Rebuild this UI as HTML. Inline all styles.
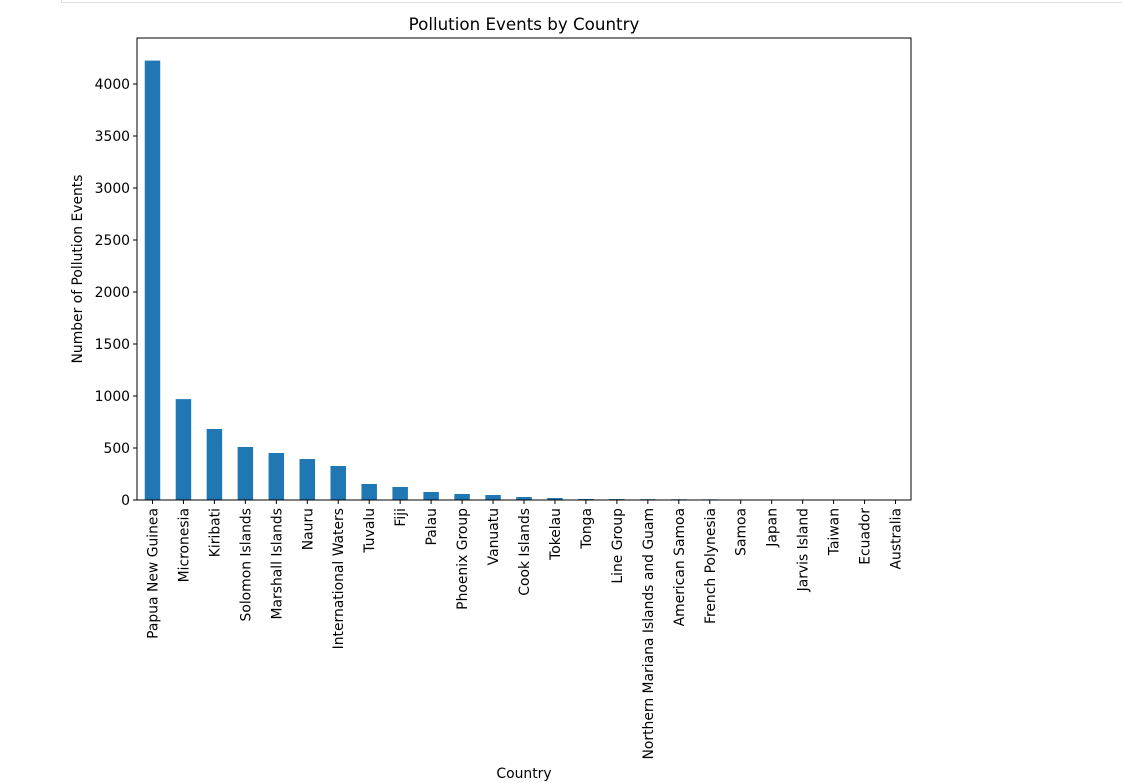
<!DOCTYPE html>
<html><head><meta charset="utf-8"><style>
body{margin:0;background:#fff;width:1122px;height:783px;overflow:hidden;font-family:"Liberation Sans","DejaVu Sans",sans-serif}
</style></head><body>
<div style="position:absolute;left:61px;top:0;width:1061px;height:2px;border-bottom:1px solid #ddd;border-left:1px solid #ddd"></div>
<svg id="chart" width="1122" height="783" style="position:absolute;left:0;top:0" font-family="DejaVu Sans, Liberation Sans, sans-serif"></svg>
<script>
const categories=["Papua New Guinea","Micronesia","Kiribati","Solomon Islands","Marshall Islands","Nauru","International Waters","Tuvalu","Fiji","Palau","Phoenix Group","Vanuatu","Cook Islands","Tokelau","Tonga","Line Group","Northern Mariana Islands and Guam","American Samoa","French Polynesia","Samoa","Japan","Jarvis Island","Taiwan","Ecuador","Australia"];
const values=[4225,970,683,510,452,394,327,154,125,77,58,48,29,19,10,9,8,7,6,2,1,1,1,1,1];
const yTicks=[0,500,1000,1500,2000,2500,3000,3500,4000];
const svg=document.getElementById('chart');const NS='http://www.w3.org/2000/svg';
const L=137,R=911,T=38,B=500;
const x=i=>L+(i+0.5)*(R-L)/categories.length;
const y=v=>B-v*0.104;
function el(t,a,p){const e=document.createElementNS(NS,t);for(const k in a)e.setAttribute(k,a[k]);(p||svg).appendChild(e);return e;}
const bw=(R-L)/categories.length*0.5;
values.forEach((v,i)=>{const r=el('rect',{x:x(i)-bw/2,y:y(v),width:bw,height:B-y(v),fill:'#1f77b4'});

});
yTicks.forEach(t=>{el('line',{x1:L-4,x2:L,y1:y(t),y2:y(t),stroke:'#000'});
const tx=el('text',{x:L-7,y:y(t)+5,'text-anchor':'end','font-size':13.9});tx.textContent=t;

});
categories.forEach((c,i)=>{el('line',{x1:x(i),x2:x(i),y1:B,y2:B+4,stroke:'#000'});
const tx=el('text',{x:0,y:0,'text-anchor':'end','font-size':13.9,transform:`translate(${x(i)+5},${B+8}) rotate(-90)`});tx.textContent=c;

});
const fr=el('rect',{x:L,y:T,width:R-L,height:B-T,fill:'none',stroke:'#000','stroke-width':1});


const ti=el('text',{x:(L+R)/2,y:30,'text-anchor':'middle','font-size':16.7});ti.textContent='Pollution Events by Country';


const xl=el('text',{x:(L+R)/2,y:778,'text-anchor':'middle','font-size':13.9});xl.textContent='Country';


const yl=el('text',{x:0,y:0,'text-anchor':'middle','font-size':13.9,transform:`translate(82,${(T+B)/2}) rotate(-90)`});yl.textContent='Number of Pollution Events';


</script>
</body></html>
